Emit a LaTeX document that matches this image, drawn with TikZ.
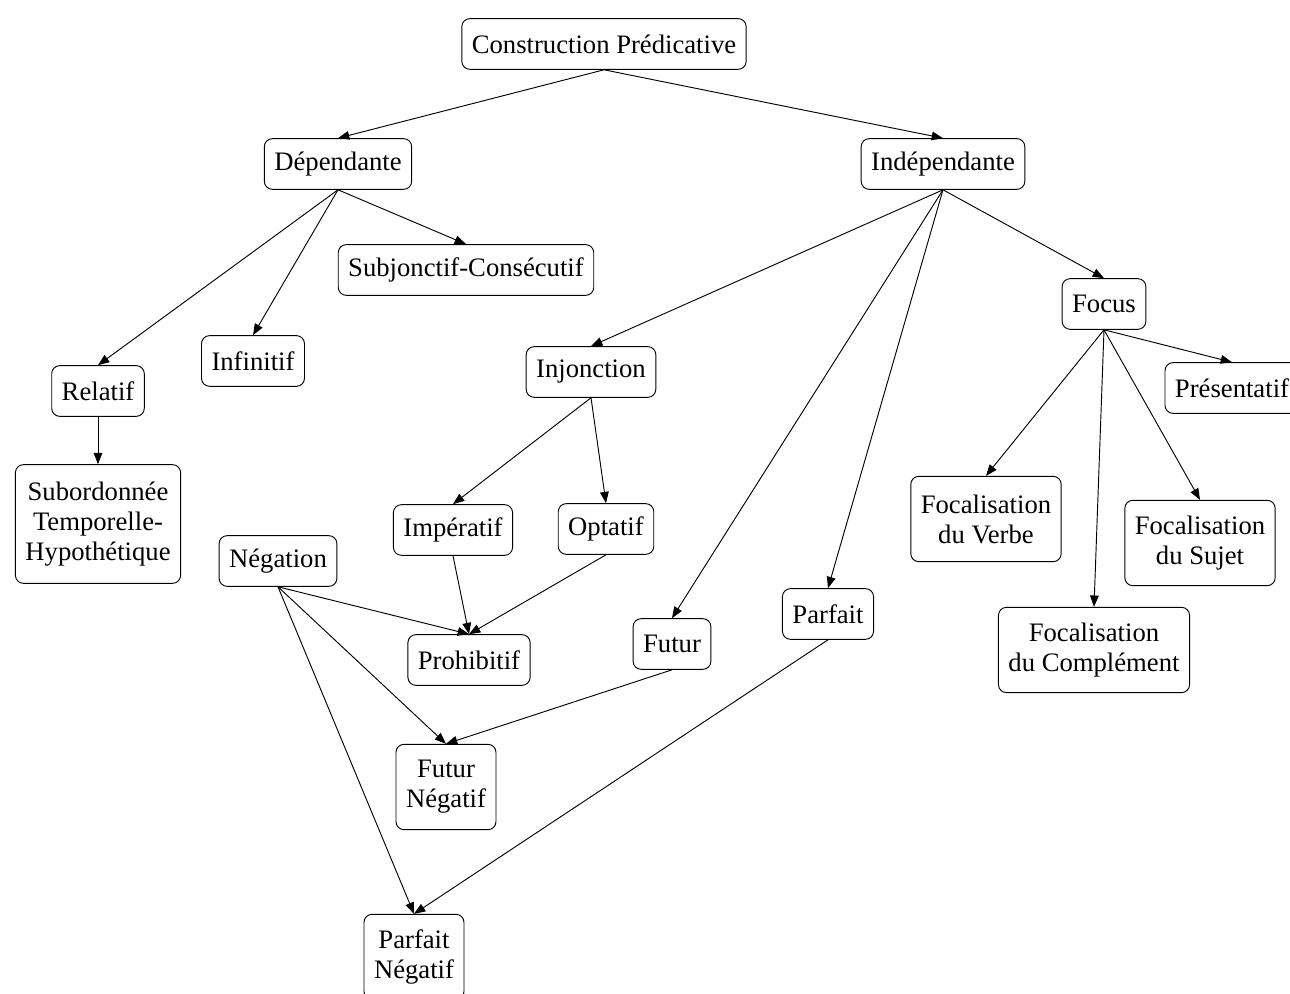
\documentclass[tikz,border=0pt]{standalone}
\usepackage{fontspec}
\setmainfont{Liberation Serif}
\usetikzlibrary{positioning,arrows.meta}
\tikzset{
	cat/.style={draw,rounded corners=6pt,inner xsep=7.5pt,inner ysep=6pt,minimum height=38pt,align=center,font=\fontsize{20}{22.5}\selectfont},
	cattwo/.style={cat,minimum height=64pt},
	catthree/.style={cat,minimum height=89pt},
	diredge/.style={-{Triangle[width=6.5pt,length=8.5pt]},color=black}
}

\begin{document}
\begin{tikzpicture}[line width=0.7pt, x=0.75pt, y=-0.75pt]
	\useasboundingbox (0,0) rectangle (1290,994);
	
	\node[cat] (CP) at (604,44) {Construction Prédicative};
	
	\node[cat] (DEP) at (338,164) {Dépendante};
	\node[cat] (IND) at (943,164) {Indépendante};
	
	\node[cat] (SUBJ) at (466,270) {Subjonctif-Consécutif};
	\node[cat] (INF) at (253,361) {Infinitif};
	\node[cat] (REL) at (98,391) {Relatif};
	\node[catthree] (STH) at (98,524) {Subordonnée\\Temporelle-\\Hypothétique};
	
	\node[cat] (INJ) at (591,372) {Injonction};
	\node[cat] (IMP) at (453,530) {Impératif};
	\node[cat] (OPT) at (606,529) {Optatif};
	\node[cat] (NEG) at (278,561) {Négation};
	\node[cat] (PRO) at (469,660) {Prohibitif};
	\node[cat] (FUT) at (672,644) {Futur};
	\node[cat] (PAR) at (828,614) {Parfait};
	\node[cattwo] (FN) at (446,787) {Futur\\Négatif};
	\node[cattwo] (PN) at (414,957) {Parfait\\Négatif};
	
	\node[cat] (FOC) at (1104,304) {Focus};
	\node[cat] (PRE) at (1232,388) {Présentatif};
	\node[cattwo] (FV) at (986,519) {Focalisation\\du Verbe};
	\node[cattwo] (FS) at (1200,543) {Focalisation\\du Sujet};
	\node[cattwo] (FC) at (1094,650) {Focalisation\\du Complément};
	
	\draw[diredge] (CP.south) -- (DEP.north);
	\draw[diredge] (CP.south) -- (IND.north);
	
	\draw[diredge] (DEP.south) -- (REL.north);
	\draw[diredge] (DEP.south) -- (INF.north);
	\draw[diredge] (DEP.south) -- (SUBJ.north);
	\draw[diredge] (REL.south) -- (STH.north);
	
	\draw[diredge] (IND.south) -- (INJ.north);
	\draw[diredge] (IND.south) -- (FUT.north);
	\draw[diredge] (IND.south) -- (PAR.north);
	\draw[diredge] (IND.south) -- (FOC.north);
	
	\draw[diredge] (INJ.south) -- (IMP.north);
	\draw[diredge] (INJ.south) -- (OPT.north);
	\draw[diredge] (IMP.south) -- (PRO.north);
	\draw[diredge] (OPT.south) -- (PRO.north);
	\draw[diredge] (NEG.south) -- (PRO.north);
	\draw[diredge] (NEG.south) -- (FN.north);
	\draw[diredge] (NEG.south) -- (PN.north);
	\draw[diredge] (FUT.south) -- (FN.north);
	\draw[diredge] (PAR.south) -- (PN.north);
	
	\draw[diredge] (FOC.south) -- (FV.north);
	\draw[diredge] (FOC.south) -- (FC.north);
	\draw[diredge] (FOC.south) -- (FS.north);
	\draw[diredge] (FOC.south) -- (PRE.north);
\end{tikzpicture}
\end{document}
